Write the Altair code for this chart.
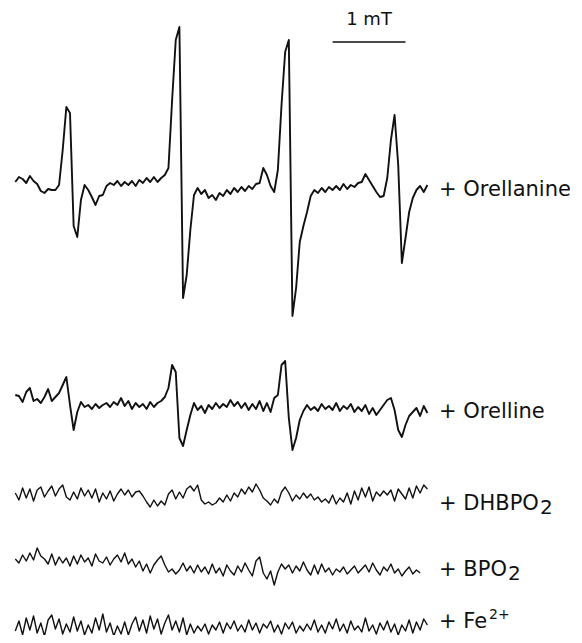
import altair as alt
import pandas as pd

field_step_mT = 0.05

orellanine = [6, 11, 9, 5, 12, 7, 4, -3, -5, -1,
              -2, -2, 3, 38, 81, 75, -38, -49, -12, 3,
              -2, -9, -17, -8, -7, 2, 5, 3, 7, 2,
              6, 3, 7, 2, 8, 5, 10, 6, 11, 6,
              10, 13, 20, 88, 148, 161, -110, -87, -42, -7,
              0, -6, -2, -10, -7, -12, -5, -8, -2, -6,
              0, -4, 1, -3, 2, -1, 4, 5, 20, 13,
              2, -4, 18, 83, 136, 148, -128, -100, -54, -38,
              -24, -8, -2, -5, 0, -4, 1, -2, 2, -2,
              4, -1, 3, 1, 5, 6, 14, 8, 2, -4,
              -9, -8, 10, 48, 73, 23, -75, -50, -24, -10,
              -2, 2, -4, 3]

orelline = [10, 9, 3, 13, 17, 4, 6, 2, 8, 16,
            4, 8, 12, 20, 28, 0, -25, -7, 3, -2,
            0, -4, 1, -3, 0, 2, -2, 3, 0, 7,
            -1, 4, -4, 2, -2, 1, -4, 3, -2, 2,
            4, 8, 17, 40, 33, -33, -41, -25, -10, 2,
            -5, -1, -8, 0, -4, 2, -3, 1, -2, 5,
            -1, 3, -3, 2, -5, 1, -4, 4, -6, 2,
            -7, 7, 10, 40, 44, -13, -45, -33, -15, -6,
            0, -5, -2, -6, 1, -4, -1, -5, 2, -6,
            -1, -4, 1, -7, -2, -6, 0, -9, -3, -10,
            -5, 0, 5, 7, -5, -25, -32, -20, -11, -7,
            -3, -11, -1, -8]

dhbpo2 = [2, -5, 7, -3, 6, -6, 5, 8, -2, 4,
          9, -1, 6, 10, -2, -5, 3, -4, 7, -1,
          5, -3, 6, -7, 2, -4, 4, -6, 1, 6,
          0, 5, -2, 3, 4, -1, -7, -12, -5, -11,
          -6, -10, 1, 5, -4, 3, -3, 6, 9, 4,
          10, -5, -9, -7, -10, -8, -3, -7, 0, -6,
          2, -2, 6, 1, 8, 3, 11, 5, -3, -6,
          -10, -4, -8, 3, 8, 2, -6, 0, -4, 2,
          -3, 1, -5, -2, -7, -4, -8, 0, -9, -3,
          -7, 2, -9, 4, -5, 7, -2, 8, -6, 3,
          -1, 4, 0, 5, -6, 6, 1, -4, 7, -3,
          9, 2, 10, 6]

bpo2 = [8, 4, 12, 6, 14, 7, 19, 11, 8, 3,
        13, 2, 10, 4, 9, 1, 11, 3, 12, 5,
        9, 1, 13, 6, 4, 10, 2, 8, 12, 5,
        14, 3, 8, 0, 6, -4, 3, -6, 2, 7,
        11, 2, -5, -2, -7, -3, 4, -4, 1, -6,
        2, -5, 0, -7, 3, -6, -1, -9, 2, -4,
        -8, 1, -5, 4, -3, -9, 6, 10, -6, -12,
        -4, -18, -5, 3, -2, 2, -6, 1, -4, 5,
        -3, -8, 2, -7, 3, -5, -1, -8, -2, -5,
        0, -7, -3, 1, -6, -2, 2, -5, 4, -3,
        -8, 0, -4, 3, -6, -2, -9, -4, 0, -7,
        -3, -6]

fe2 = [-4, 6, -8, 9, -3, 11, -6, 4, -9, 7,
       12, -2, 8, -7, 3, -5, 10, -4, 6, -8,
       2, -6, 9, -3, 13, -5, 4, -9, 1, -7,
       5, -8, 3, 10, -4, 7, -6, 11, -2, 8,
       -7, 4, 12, -3, 6, -5, 9, -8, 3, -6,
       1, -4, 3, -7, 2, -3, 5, -6, 4, -2,
       6, -4, 2, -5, 7, -3, 4, -6, 3, -1,
       6, -5, 2, -7, 4, -2, 5, -6, 1, -4,
       3, -3, 7, -5, 2, -6, 5, -2, 8, -4,
       3, -6, 6, -3, 1, -5, 9, -4, 2, -7,
       4, -3, 6, -5, 3, -8, 2, -4, 7, -6,
       5, -3, 8, 2]

trace_names = ["Orellanine", "Orelline", "DHBPO2", "BPO2", "Fe2+"]
trace_values = [orellanine, orelline, dhbpo2, bpo2, fe2]
trace_offsets = [447, 230, 140, 68, 8]          # vertical stacking of the spectra

label_main = ["+ Orellanine", "+ Orelline", "+ DHBPO", "+ BPO", "+ Fe"]
label_script = ["", "", "2", "2", "2+"]
label_level = [439, 217, 125, 59, 7]
label_field = 5.81

scalebar_start_mT = 4.35
scalebar_length_mT = 1.0
scalebar_level = 593
scalebar_text = "1 mT"

# ---- build tables ----
rows = []
for name, off, vals in zip(trace_names, trace_offsets, trace_values):
    for i, v in enumerate(vals):
        rows.append({"trace": name, "field": round(i * field_step_mT, 4), "signal": v + off})
spectra = pd.DataFrame(rows)

labels = pd.DataFrame({"field": [label_field] * 5, "signal": label_level,
                       "text": label_main, "script": label_script})

xs = alt.Scale(domain=[-0.1, 7.66], nice=False, zero=False)
ys = alt.Scale(domain=[0, 627], nice=False, zero=False)
X = alt.X("field:Q", scale=xs, axis=None)
Y = alt.Y("signal:Q", scale=ys, axis=None)

lines = alt.Chart(spectra).mark_line(color="#111111", strokeJoin="round").encode(
    x=X, y=Y, detail="trace:N",
    strokeWidth=alt.condition(
        alt.FieldOneOfPredicate(field="trace", oneOf=["Orellanine", "Orelline"]),
        alt.value(1.9), alt.value(1.4)),
)

main_text = alt.Chart(labels).mark_text(
    align="left", baseline="alphabetic", font="DejaVu Sans", fontSize=21, color="#111111"
).encode(x=X, y=Y, text="text:N")

script_layers = []
for idx, (name, scr) in enumerate(zip(label_main, label_script)):
    if not scr:
        continue
    if scr == "2+":
        dx, dy, fs = 50, -9, 14
    elif name == "+ DHBPO":
        dx, dy, fs = 101, 4, 20
    else:
        dx, dy, fs = 69, 4, 20
    script_layers.append(
        alt.Chart(labels.iloc[[idx]]).mark_text(
            align="left", baseline="alphabetic", font="DejaVu Sans",
            fontSize=fs, dx=dx, dy=dy, color="#111111"
        ).encode(x=X, y=Y, text="script:N")
    )

bar_df = pd.DataFrame({"field": [scalebar_start_mT], "field2": [scalebar_start_mT + scalebar_length_mT],
                       "signal": [scalebar_level]})
bar = alt.Chart(bar_df).mark_rule(color="#111111", strokeWidth=1.6).encode(
    x=X, x2="field2:Q", y=Y)

bar_txt_df = pd.DataFrame({"field": [scalebar_start_mT + scalebar_length_mT / 2],
                           "signal": [scalebar_level + 17], "text": [scalebar_text]})
bar_txt = alt.Chart(bar_txt_df).mark_text(
    align="center", baseline="alphabetic", font="DejaVu Sans", fontSize=18, color="#111111"
).encode(x=X, y=Y, text="text:N")

chart = alt.layer(lines, main_text, *script_layers, bar, bar_txt).properties(
    width=566, height=627, padding=0, autosize=alt.AutoSizeParams(type="none"),
    background="white"
).configure_view(stroke=None)

chart.save("out.html", embed_options={"renderer": "svg", "actions": False})
